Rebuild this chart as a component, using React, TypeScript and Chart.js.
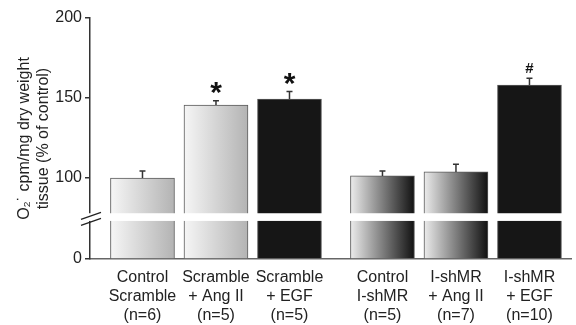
import React, { useEffect, useRef } from 'react';
import { Chart, registerables, LinearScale } from 'chart.js';

// ---- data ----
const xLabels: string[][] = [
  ['Control', 'Scramble', '(n=6)'],
  ['Scramble', '+ Ang II', '(n=5)'],
  ['Scramble', '+ EGF', '(n=5)'],
  ['Control', 'I-shMR', '(n=5)'],
  ['I-shMR', '+ Ang II', '(n=7)'],
  ['I-shMR', '+ EGF', '(n=10)'],
];
const groups = [0, 0, 0, 1, 1, 1];
const values = [100, 145.6, 149.4, 101.3, 103.8, 158.1];
const errors = [4.4, 2.7, 4.6, 3.1, 4.8, 4.3];
const markers = ['', '*', '*', '', '', '#'];
const fills = ['light', 'light', 'dark', 'fade', 'fade', 'dark'];
const yTicks = [0, 100, 150, 200];
const yTitle = ['O\u2082\u02D9 cpm/mg dry weight', 'tissue (% of control)'];
const breakBand = [47, 56.5];

// ---- style / layout constants ----
const FONT = '"Liberation Sans", Arial, Helvetica, sans-serif';
const GROUP_GAP = 0.265;
const BAR_PX = 64;
const LOWER_FRACTION = 81 / 241; // share of axis length used by 0..100
const BREAK_AT = 100;
const Y_MAX = 200;

const xPositions = values.map((_, i) => i + groups[i] * GROUP_GAP);

class BrokenLinearScale extends LinearScale {
  static id = 'brokenLinear';
  toDecimal(v: number) {
    if (v <= BREAK_AT) return (v / BREAK_AT) * LOWER_FRACTION;
    return LOWER_FRACTION + ((v - BREAK_AT) / (Y_MAX - BREAK_AT)) * (1 - LOWER_FRACTION);
  }
  getPixelForValue(v: number) {
    return this.getPixelForDecimal(this.toDecimal(v));
  }
  getValueForPixel(p: number) {
    const d = this.getDecimalForPixel(p);
    if (d <= LOWER_FRACTION) return (d / LOWER_FRACTION) * BREAK_AT;
    return BREAK_AT + ((d - LOWER_FRACTION) / (1 - LOWER_FRACTION)) * (Y_MAX - BREAK_AT);
  }
}

Chart.register(...registerables, BrokenLinearScale);

function fillFor(chart: any, i: number) {
  const kind = fills[i];
  if (kind === 'dark') return '#161616';
  const xs = chart.scales?.x;
  if (!xs) return '#999';
  const cx = xs.getPixelForValue(xPositions[i]);
  if (!isFinite(cx)) return '#999';
  const g = chart.ctx.createLinearGradient(cx - BAR_PX / 2, 0, cx + BAR_PX / 2, 0);
  if (kind === 'light') {
    g.addColorStop(0, '#f6f6f6');
    g.addColorStop(1, '#b3b3b3');
  } else {
    g.addColorStop(0, '#ececec');
    g.addColorStop(1, '#111111');
  }
  return g;
}

const overlayPlugin = {
  id: 'overlay',
  afterDatasetsDraw(chart: any) {
    const { ctx, chartArea, scales } = chart;
    const x = scales.x;
    const y = scales.y;
    ctx.save();
    // error bars + markers
    values.forEach((v, i) => {
      const cx = x.getPixelForValue(xPositions[i]);
      const yTop = y.getPixelForValue(v);
      const yErr = y.getPixelForValue(v + errors[i]);
      ctx.strokeStyle = '#333';
      ctx.lineWidth = 1.5;
      ctx.beginPath();
      ctx.moveTo(cx, yTop);
      ctx.lineTo(cx, yErr);
      ctx.moveTo(cx - 3, yErr);
      ctx.lineTo(cx + 3, yErr);
      ctx.stroke();
      const m = markers[i];
      if (m) {
        const size = m === '*' ? 30 : 15;
        const off = m === '*' ? 12.5 : 10;
        ctx.font = `bold ${size}px ${FONT}`;
        ctx.fillStyle = '#111';
        ctx.textAlign = 'center';
        ctx.textBaseline = 'alphabetic';
        const mt = ctx.measureText(m);
        const asc = mt.actualBoundingBoxAscent;
        const desc = mt.actualBoundingBoxDescent;
        const centerY = yErr - off;
        ctx.fillText(m, cx, centerY + (asc - desc) / 2);
      }
    });
    // axis break
    const b0 = y.getPixelForValue(breakBand[0]);
    const b1 = y.getPixelForValue(breakBand[1]);
    ctx.fillStyle = '#ffffff';
    ctx.fillRect(chartArea.left - 4, b1, chartArea.right - chartArea.left + 8, b0 - b1);
    const ax = chartArea.left;
    const mid = (b0 + b1) / 2;
    ctx.strokeStyle = '#222';
    ctx.lineWidth = 1.3;
    ctx.beginPath();
    ctx.moveTo(ax - 9, mid + 2.2);
    ctx.lineTo(ax + 11, mid - 4.8);
    ctx.moveTo(ax - 9, mid + 8.2);
    ctx.lineTo(ax + 11, mid + 1.2);
    ctx.stroke();
    ctx.restore();
  },
};

export default function App() {
  const ref = useRef<HTMLCanvasElement>(null);
  useEffect(() => {
    document.body.style.margin = '0';
    const canvas = ref.current;
    if (!canvas) return;
    const chart = new Chart(canvas, {
      type: 'bar',
      data: {
        datasets: [
          {
            data: values.map((v, i) => ({ x: xPositions[i], y: v })),
            backgroundColor: (c: any) => (c.dataIndex == null ? '#999' : fillFor(c.chart, c.dataIndex)),
            borderColor: '#5a5a5a',
            borderWidth: 1,
            barThickness: BAR_PX,
          },
        ],
      },
      options: {
        responsive: false,
        animation: false,
        events: [],
        layout: { padding: { top: 18, right: 5, left: 0, bottom: 0 } },
        plugins: { legend: { display: false }, tooltip: { enabled: false } },
        scales: {
          x: {
            type: 'linear',
            offset: false,
            min: -0.714,
            max: 5.83,
            afterBuildTicks: (s: any) => {
              s.ticks = xPositions.map((v) => ({ value: v }));
            },
            afterFit: (s: any) => {
              s.height = 66;
            },
            ticks: {
              autoSkip: false,
              maxRotation: 0,
              padding: 9,
              color: '#222',
              font: { family: FONT, size: 16, lineHeight: 1.2 },
              callback: (_v: any, i: number) => xLabels[i],
            },
            grid: { display: true, drawOnChartArea: false, drawTicks: false },
            border: { display: true, color: '#666', width: 1.5 },
          },
          y: {
            type: 'brokenLinear' as any,
            min: 0,
            max: Y_MAX,
            afterBuildTicks: (s: any) => {
              s.ticks = yTicks.map((v) => ({ value: v }));
            },
            afterFit: (s: any) => {
              s.width = 90;
            },
            ticks: {
              padding: 3,
              color: '#222',
              font: { family: FONT, size: 16 },
            },
            grid: { display: true, drawOnChartArea: false, drawTicks: true, tickLength: 5, color: '#333', lineWidth: 1.5 },
            border: { display: true, color: '#333', width: 1.5 },
            title: {
              display: true,
              text: yTitle,
              color: '#222',
              font: { family: FONT, size: 16, lineHeight: 1.2 },
              padding: { top: 15, bottom: 0 },
            },
          },
        },
      },
      plugins: [overlayPlugin],
    });
    return () => chart.destroy();
  }, []);
  return (
    <div style={{ width: 576, height: 325 }}>
      <canvas ref={ref} width={576} height={325} />
    </div>
  );
}
